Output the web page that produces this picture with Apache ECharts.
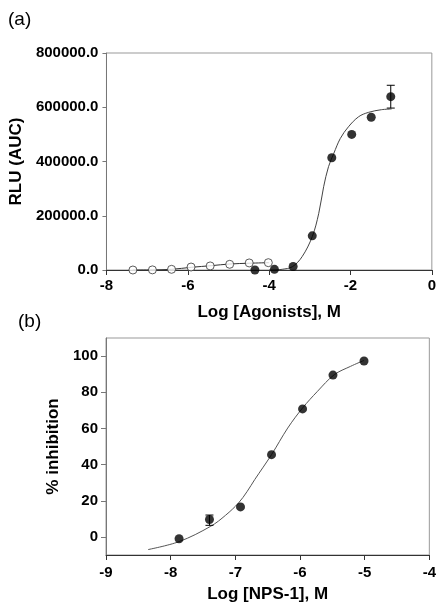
<!DOCTYPE html>
<html>
<head>
<meta charset="utf-8">
<script src="https://cdn.jsdelivr.net/npm/echarts@6/dist/echarts.min.js"></script>
<style>
html,body{margin:0;padding:0;background:#fff;}
#c{width:439px;height:607px;}
</style>
</head>
<body>
<div id="c"></div>
<script>
// ---- Panel (a) data ----
var aFilledX = [-4.35, -3.87, -3.41, -2.94, -2.46, -1.97, -1.49, -1.01];
var aFilledY = [0, 2500, 13000, 126000, 414000, 500000, 563000, 639000];
var aErrX = [-1.01];
var aErrLow = [597000];
var aErrHigh = [681000];
var aOpenX = [-7.35, -6.87, -6.40, -5.92, -5.45, -4.97, -4.49, -4.02];
var aOpenY = [0, 500, 2500, 11000, 15000, 21000, 26000, 27000];
var aFitFilledX = [-4.0, -3.85, -3.68, -3.43, -3.19, -2.94, -2.78, -2.66, -2.54, -2.41, -2.25, -2.05, -1.80, -1.56, -1.24, -0.99];
var aFitFilledY = [0, 500, 2500, 12000, 49000, 123000, 209000, 307000, 381000, 430000, 485000, 528000, 565000, 581000, 591000, 593500];
var aFitOpenX = [-7.35, -6.87, -6.40, -5.91, -5.42, -4.98, -4.49, -4.00];
var aFitOpenY = [0, 500, 2500, 10000, 16000, 22000, 25000, 27000];
var aXTicks = [-8, -6, -4, -2, 0];
var aYTicks = [0, 200000, 400000, 600000, 800000];

// ---- Panel (b) data ----
var bX = [-7.87, -7.40, -6.92, -6.44, -5.96, -5.49, -5.01];
var bY = [-1.0, 9.6, 16.6, 45.5, 70.8, 89.5, 97.3];
var bErrX = [-7.40];
var bErrLow = [6.4];
var bErrHigh = [12.1];
var bFitX = [-8.35, -7.87, -7.38, -7.15, -6.95, -6.82, -6.70, -6.44, -6.19, -5.96, -5.73, -5.47, -5.22, -5.01];
var bFitY = [-7.0, -2.6, 5.9, 12.0, 18.8, 25.0, 31.7, 45.5, 60.2, 71.3, 80.5, 89.7, 94.3, 97.6];
var bXTicks = [-9, -8, -7, -6, -5, -4];
var bYTicks = [0, 20, 40, 60, 80, 100];

function zip(xs, ys){ return xs.map(function(x,i){ return [x, ys[i]]; }); }
function zip3(xs, lo, hi){ return xs.map(function(x,i){ return [x, lo[i], hi[i]]; }); }

var FONT = '"Liberation Sans", Arial, sans-serif';
var tickLabel = {color:'#000', fontFamily:FONT, fontWeight:'bold', fontSize:15};
var nameStyle = {color:'#000', fontFamily:FONT, fontWeight:'bold', fontSize:17};

function errBar(params, api){
  var x = api.value(0), lo = api.value(1), hi = api.value(2);
  var pLo = api.coord([x, lo]), pHi = api.coord([x, hi]);
  var w = 4;
  var st = {stroke:'#000', lineWidth:1};
  return {type:'group', children:[
    {type:'line', shape:{x1:pLo[0], y1:pLo[1], x2:pHi[0], y2:pHi[1]}, style:st},
    {type:'line', shape:{x1:pHi[0]-w, y1:pHi[1], x2:pHi[0]+w, y2:pHi[1]}, style:st},
    {type:'line', shape:{x1:pLo[0]-w, y1:pLo[1], x2:pLo[0]+w, y2:pLo[1]}, style:st}
  ]};
}

var chart = echarts.init(document.getElementById('c'), null, {renderer:'canvas'});
var option = {
  animation:false,
  backgroundColor:'#fff',
  grid:[
    {left:106, top:53, width:327, height:217, show:true, borderColor:'#999', borderWidth:1, containLabel:false},
    {left:106, top:338, width:327, height:217, show:true, borderColor:'#999', borderWidth:1, containLabel:false}
  ],
  graphic:[
    {type:'text', left:8, top:10, style:{text:'(a)', fontFamily:FONT, fontSize:19, fill:'#000'}},
    {type:'text', left:18, top:312, style:{text:'(b)', fontFamily:FONT, fontSize:19, fill:'#000'}}
  ],
  xAxis:[
    {gridIndex:0, type:'value', min:aXTicks[0], max:aXTicks[aXTicks.length-1], interval:2,
     name:'Log [Agonists], M', nameLocation:'middle', nameGap:34, nameTextStyle:nameStyle,
     axisLine:{onZero:false, lineStyle:{color:'#333', width:1}},
     axisTick:{inside:false, length:5, lineStyle:{color:'#333'}},
     axisLabel:Object.assign({margin:8}, tickLabel),
     splitLine:{show:false}},
    {gridIndex:1, type:'value', min:bXTicks[0], max:bXTicks[bXTicks.length-1], interval:1,
     name:'Log [NPS-1], M', nameLocation:'middle', nameGap:31, nameTextStyle:nameStyle,
     axisLine:{onZero:false, lineStyle:{color:'#333', width:1}},
     axisTick:{inside:false, length:5, lineStyle:{color:'#333'}},
     axisLabel:Object.assign({margin:10}, tickLabel),
     splitLine:{show:false}}
  ],
  yAxis:[
    {gridIndex:0, type:'value', min:aYTicks[0], max:aYTicks[aYTicks.length-1], interval:200000,
     name:'RLU (AUC)', nameLocation:'middle', nameRotate:90, nameGap:80, nameTextStyle:nameStyle,
     axisLine:{show:true, onZero:false, lineStyle:{color:'#777', width:1}},
     axisTick:{show:true, inside:false, length:4, lineStyle:{color:'#777'}},
     axisLabel:Object.assign({margin:8, formatter:function(v){return v.toFixed(1);}}, tickLabel),
     splitLine:{show:false}},
    {gridIndex:1, type:'value', min:-10, max:110,
     name:'% inhibition', nameLocation:'middle', nameRotate:90, nameGap:42, nameTextStyle:nameStyle,
     axisLine:{show:true, onZero:false, lineStyle:{color:'#777', width:1}},
     axisTick:{show:true, inside:false, length:5, customValues:bYTicks, lineStyle:{color:'#777'}},
     axisLabel:Object.assign({margin:8, customValues:bYTicks}, tickLabel),
     splitLine:{show:false}}
  ],
  series:[
    {type:'line', xAxisIndex:0, yAxisIndex:0, data:zip(aFitOpenX, aFitOpenY), smooth:0.35,
     showSymbol:false, lineStyle:{color:'#333', width:1}, z:2},
    {type:'line', xAxisIndex:0, yAxisIndex:0, data:zip(aFitFilledX, aFitFilledY), smooth:0.35,
     showSymbol:false, lineStyle:{color:'#444', width:1}, z:2},
    {type:'custom', xAxisIndex:0, yAxisIndex:0, data:zip3(aErrX, aErrLow, aErrHigh), renderItem:errBar, z:3},
    {type:'scatter', xAxisIndex:0, yAxisIndex:0, data:zip(aOpenX, aOpenY), symbol:'circle', symbolSize:8,
     itemStyle:{color:'#fff', borderColor:'#333', borderWidth:1}, z:4, clip:false},
    {type:'scatter', xAxisIndex:0, yAxisIndex:0, data:zip(aFilledX, aFilledY), symbol:'circle', symbolSize:9,
     itemStyle:{color:'#000'}, z:5, clip:false},

    {type:'line', xAxisIndex:1, yAxisIndex:1, data:zip(bFitX, bFitY), smooth:0.35,
     showSymbol:false, lineStyle:{color:'#555', width:1}, z:2},
    {type:'custom', xAxisIndex:1, yAxisIndex:1, data:zip3(bErrX, bErrLow, bErrHigh), renderItem:errBar, z:3},
    {type:'scatter', xAxisIndex:1, yAxisIndex:1, data:zip(bX, bY), symbol:'circle', symbolSize:9,
     itemStyle:{color:'#000'}, z:5}
  ]
};
chart.setOption(option);
</script>
</body>
</html>
